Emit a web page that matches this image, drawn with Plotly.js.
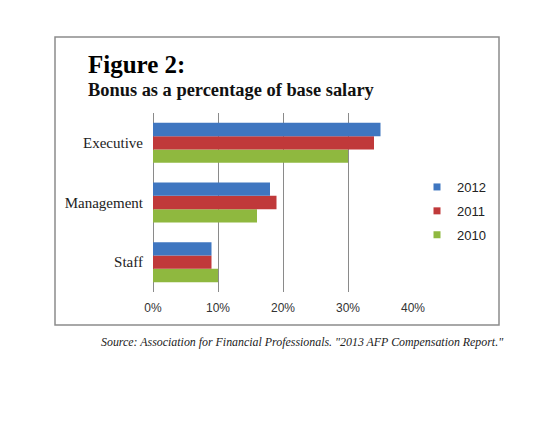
<!DOCTYPE html>
<html>
<head>
<meta charset="utf-8">
<script src="https://cdn.plot.ly/plotly-3.0.1.min.js"></script>
<style>html,body{margin:0;padding:0;background:#fff;}#chart{width:559px;height:422px;}</style>
</head>
<body>
<div id="chart"></div>
<script>
const categories = ["Staff", "Management", "Executive"];
const years = ["2010", "2011", "2012"];
const legendYears = ["2012", "2011", "2010"];
const values2010 = [10, 16, 30];
const values2011 = [9, 19, 34];
const values2012 = [9, 18, 35];
const xTickVals = [0, 10, 20, 30, 40];
const xTickText = ["0%", "10%", "20%", "30%", "40%"];
const colors = {"2010": "#8fb83f", "2011": "#c0393a", "2012": "#3f76c0"};

const seriesValues = {"2010": values2010, "2011": values2011, "2012": values2012};

const traces = [];
years.forEach(function (yr) {
  traces.push({
    type: "bar", orientation: "h", name: yr,
    x: seriesValues[yr], y: categories,
    marker: {color: colors[yr]},
    showlegend: false, hoverinfo: "none"
  });
});
legendYears.forEach(function (yr) {
  traces.push({
    type: "scatter", mode: "markers", name: yr,
    x: [null], y: [null],
    marker: {symbol: "square", size: 7, color: colors[yr]},
    legendgroup: yr, showlegend: true, hoverinfo: "none"
  });
});

const W = 559, H = 422;
const L = 153, R = 413, T = 113, B = 292;
const px = function (x) { return (x - L) / (R - L); };
const py = function (y) { return (B - y) / (B - T); };

const layout = {
  width: W, height: H,
  margin: {l: L, r: W - R, t: T, b: H - B},
  paper_bgcolor: "#ffffff", plot_bgcolor: "#ffffff",
  barmode: "group", bargap: 0.33, bargroupgap: 0,
  showlegend: true,
  legend: {
    x: px(417), y: py(211), xanchor: "left", yanchor: "middle",
    traceorder: "grouped", tracegroupgap: 4,
    font: {family: "Liberation Sans, Arial, sans-serif", size: 13, color: "#222"},
    bgcolor: "rgba(0,0,0,0)"
  },
  xaxis: {
    range: [0, 40], tickvals: xTickVals, ticktext: xTickText,
    showgrid: true, gridcolor: "#8a8a8a", gridwidth: 1,
    zeroline: true, zerolinecolor: "#8a8a8a", zerolinewidth: 1,
    showline: false, ticks: "outside", ticklen: 5, tickcolor: "rgba(0,0,0,0)",
    tickfont: {family: "Liberation Sans, Arial, sans-serif", size: 12, color: "#333"},
    fixedrange: true
  },
  yaxis: {
    categoryorder: "array", categoryarray: categories,
    showgrid: false, zeroline: false, showline: false,
    ticks: "outside", ticklen: 6, tickcolor: "rgba(0,0,0,0)",
    tickfont: {family: "Liberation Serif, Times New Roman, serif", size: 15, color: "#222"},
    fixedrange: true
  },
  shapes: [{
    type: "rect", xref: "paper", yref: "paper",
    x0: px(55), x1: px(499), y0: py(325), y1: py(37),
    line: {color: "#8c8c8c", width: 1.5}, fillcolor: "rgba(0,0,0,0)", layer: "below"
  }],
  annotations: [
    {text: "<b>Figure 2:</b>", xref: "paper", yref: "paper", x: px(86), y: py(64),
     xanchor: "left", yanchor: "middle", showarrow: false,
     font: {family: "Liberation Serif, Times New Roman, serif", size: 25, color: "#000"}},
    {text: "<b>Bonus as a percentage of base salary</b>", xref: "paper", yref: "paper", x: px(86), y: py(90),
     xanchor: "left", yanchor: "middle", showarrow: false,
     font: {family: "Liberation Serif, Times New Roman, serif", size: 18.4, color: "#111"}},
    {text: "<i>Source: Association for Financial Professionals. \"2013 AFP Compensation Report.\"</i>",
     xref: "paper", yref: "paper", x: px(99), y: py(342),
     xanchor: "left", yanchor: "middle", showarrow: false,
     font: {family: "Liberation Serif, Times New Roman, serif", size: 11.9, color: "#222"}}
  ]
};

Plotly.newPlot("chart", traces, layout, {displayModeBar: false, staticPlot: true});
</script>
</body>
</html>
